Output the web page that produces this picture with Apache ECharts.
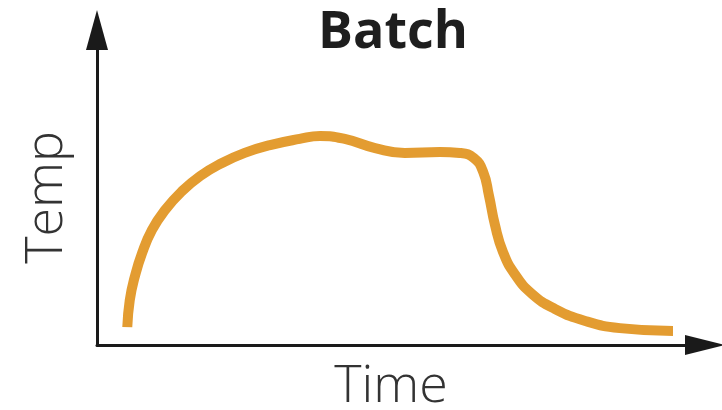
<!DOCTYPE html>
<html>
<head>
<meta charset="utf-8">
<script src="https://cdn.jsdelivr.net/npm/echarts@6/dist/echarts.min.js"></script>
<style>
  html, body { margin: 0; padding: 0; background: #fff; }
  #chart { width: 722px; height: 410px; }
</style>
</head>
<body>
<div id="chart"></div>
<script>
// time (0-100) and temp (0-100)
var timeVals = [4.9, 5.3, 6.1, 7.3, 8.9, 11.0, 13.8, 16.7, 19.9, 23.9, 28.0, 32.8, 36.1, 40.1, 45.0, 49.8, 55.5, 58.7, 61.0, 62.5, 63.4, 64.4, 65.7, 67.6, 70.4, 74.1, 79.0, 84.6, 93.2];
var tempVals = [5.5, 13.8, 20.9, 28.3, 35.4, 41.5, 47.4, 52.0, 55.7, 59.1, 61.5, 63.4, 64.3, 63.4, 60.6, 59.1, 59.4, 59.1, 57.5, 53.2, 46.2, 36.9, 28.6, 21.8, 15.7, 11.1, 7.4, 5.2, 4.3];
var titleText = 'Batch';
var xName = 'Time';
var yName = 'Temp';

var points = timeVals.map(function (t, i) { return [t, tempVals[i]]; });

var chart = echarts.init(document.getElementById('chart'));
chart.setOption({
  animation: false,
  backgroundColor: '#fff',
  title: {
    text: titleText,
    left: 388,
    top: 2,
    textAlign: 'center',
    textStyle: { fontFamily: 'Open Sans', fontWeight: 'bold', fontSize: 52, color: '#1e1e1e' }
  },
  grid: { left: 97, right: 7, top: 20, bottom: 65, outerBoundsMode: 'none', containLabel: false },
  xAxis: {
    type: 'value',
    min: 0,
    max: 100,
    name: xName,
    nameLocation: 'middle',
    nameGap: 16,
    nameTextStyle: { fontFamily: 'Open Sans', fontWeight: 300, fontSize: 52, color: '#333', padding: [0, 30, 0, 0] },
    axisLine: {
      show: true,
      symbol: ['none', 'triangle'],
      symbolSize: [20, 40],
      symbolOffset: [0, -10],
      lineStyle: { color: '#1a1a1a', width: 3 }
    },
    axisTick: { show: false },
    axisLabel: { show: false },
    splitLine: { show: false }
  },
  yAxis: {
    type: 'value',
    min: 0,
    max: 100,
    name: yName,
    nameLocation: 'middle',
    nameGap: 24,
    nameRotate: 90,
    nameTextStyle: { fontFamily: 'Open Sans', fontWeight: 300, fontSize: 52, color: '#333', padding: [0, 30, 0, 0] },
    axisLine: {
      show: true,
      symbol: ['none', 'triangle'],
      symbolSize: [22, 40],
      symbolOffset: [0, -10],
      lineStyle: { color: '#1a1a1a', width: 3 }
    },
    axisTick: { show: false },
    axisLabel: { show: false },
    splitLine: { show: false }
  },
  series: [{
    type: 'line',
    data: points,
    smooth: 0.5,
    symbol: 'none',
    lineStyle: { color: '#E39C31', width: 10, cap: 'butt' }
  }]
});
</script>
</body>
</html>
